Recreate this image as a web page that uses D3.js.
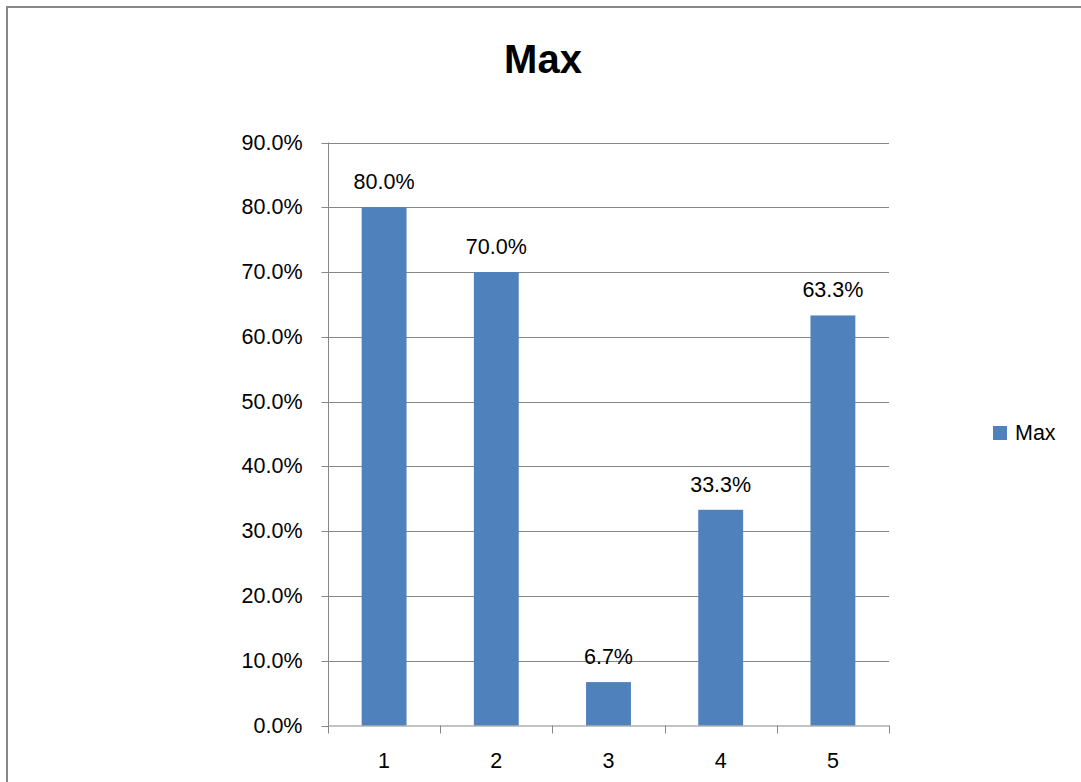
<!DOCTYPE html>
<html>
<head>
<meta charset="utf-8">
<script src="https://cdn.jsdelivr.net/npm/d3@7/dist/d3.min.js"></script>
<style>
  html, body { margin: 0; padding: 0; background: #fff; }
  svg { display: block; }
  text { font-family: "Liberation Sans", Arial, sans-serif; fill: #000; }
</style>
</head>
<body>
<svg id="chart" width="1081" height="782"></svg>
<script>
// Chart data
const categories = ["1", "2", "3", "4", "5"];
const maxValues = [0.800, 0.700, 0.067, 0.333, 0.633];
const yTicks = [0, 0.1, 0.2, 0.3, 0.4, 0.5, 0.6, 0.7, 0.8, 0.9];
const seriesName = "Max";
const chartTitle = "Max";

const svg = d3.select("#chart");
const fontSize = 21.5;

// Outer chart frame
svg.append("rect")
  .attr("x", 7).attr("y", 7)
  .attr("width", 1080).attr("height", 800)
  .attr("fill", "#fff")
  .attr("stroke", "#878787")
  .attr("stroke-width", 2);

const plot = { left: 328, right: 889, top: 142.5, bottom: 725.5 };

const x = d3.scaleBand()
  .domain(categories)
  .range([plot.left, plot.right])
  .paddingInner(0.6)
  .paddingOuter(0.3);

const xTickScale = d3.scaleLinear()
  .domain([0, categories.length])
  .range([plot.left, plot.right]);

const y = d3.scaleLinear()
  .domain([0, 0.9])
  .range([plot.bottom, plot.top]);

const gridColor = "#878787";
const pct = d3.format(".1%");

// Horizontal gridlines
svg.append("g")
  .selectAll("line")
  .data(yTicks.filter(d => d > 0))
  .join("line")
  .attr("x1", plot.left).attr("x2", plot.right)
  .attr("y1", d => Math.round(y(d)) + 0.5)
  .attr("y2", d => Math.round(y(d)) + 0.5)
  .attr("stroke", gridColor)
  .attr("stroke-width", 1);

// Y axis
const yAxis = d3.axisLeft(y)
  .tickValues(yTicks)
  .tickFormat(pct)
  .tickSize(7)
  .tickPadding(19);
const gy = svg.append("g")
  .attr("transform", `translate(${plot.left + 0.5},0)`)
  .call(yAxis);
gy.select(".domain").attr("stroke", gridColor).attr("d", `M0,${plot.top}V${plot.bottom}`);
gy.selectAll(".tick line").attr("stroke", gridColor);
gy.selectAll(".tick").attr("transform", d => `translate(0,${Math.round(y(d)) + 0.5})`);
gy.selectAll(".tick text")
  .attr("font-size", fontSize)
  .attr("fill", "#000");

// Bars
svg.append("g")
  .selectAll("rect")
  .data(categories.map((c, i) => ({ c, v: maxValues[i] })))
  .join("rect")
  .attr("x", d => x(d.c))
  .attr("y", d => y(d.v))
  .attr("width", x.bandwidth())
  .attr("height", d => plot.bottom - y(d.v))
  .attr("fill", "#4f81bd");

// X axis line and ticks
const gx = svg.append("g");
gx.append("line")
  .attr("x1", plot.left).attr("x2", plot.right + 0.5)
  .attr("y1", plot.bottom + 0.5).attr("y2", plot.bottom + 0.5)
  .attr("stroke", gridColor);
gx.selectAll("line.tick")
  .data(d3.range(categories.length + 1))
  .join("line")
  .attr("class", "tick")
  .attr("x1", d => Math.round(xTickScale(d)) + 0.5)
  .attr("x2", d => Math.round(xTickScale(d)) + 0.5)
  .attr("y1", plot.bottom)
  .attr("y2", plot.bottom + 8)
  .attr("stroke", gridColor);
gx.selectAll("text")
  .data(categories)
  .join("text")
  .attr("x", d => x(d) + x.bandwidth() / 2)
  .attr("y", 768)
  .attr("text-anchor", "middle")
  .attr("font-size", fontSize)
  .text(d => d);

// Value labels
svg.append("g")
  .selectAll("text")
  .data(categories.map((c, i) => ({ c, v: maxValues[i] })))
  .join("text")
  .attr("x", d => x(d.c) + x.bandwidth() / 2)
  .attr("y", d => y(d.v) - 18)
  .attr("text-anchor", "middle")
  .attr("font-size", fontSize)
  .text(d => pct(d.v));

// Title
svg.append("text")
  .attr("x", 543)
  .attr("y", 73)
  .attr("text-anchor", "middle")
  .attr("font-size", 40)
  .attr("font-weight", "bold")
  .text(chartTitle);

// Legend
const legend = svg.append("g").attr("transform", "translate(993,426)");
legend.append("rect")
  .attr("width", 14).attr("height", 14)
  .attr("fill", "#4f81bd");
legend.append("text")
  .attr("x", 22).attr("y", 14)
  .attr("font-size", fontSize)
  .text(seriesName);
</script>
</body>
</html>
